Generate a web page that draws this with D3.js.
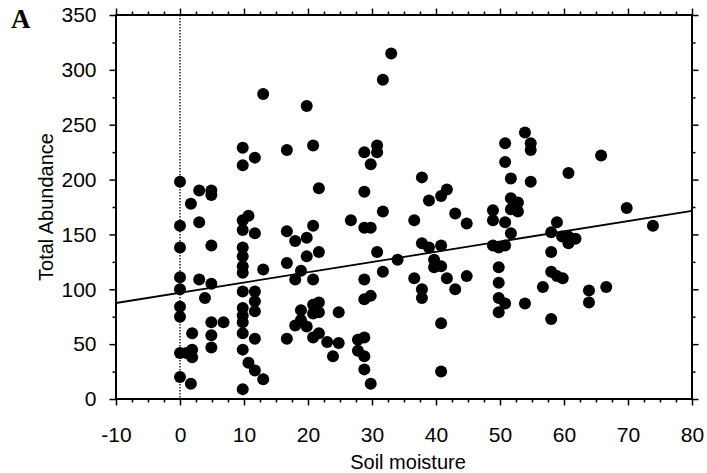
<!DOCTYPE html>
<html>
<head>
<meta charset="utf-8">
<script src="https://cdn.jsdelivr.net/npm/d3@7.9.0/dist/d3.min.js"></script>
<style>
  body { margin: 0; background: #fff; }
  svg { display: block; }
  text { fill: #000; }
</style>
</head>
<body>
<svg id="chart" width="707" height="473"></svg>
<script>
// soil moisture (x) and total abundance (y)
const moisture = [
  0, 0, 0, 0, 0, 0, 0, 0, 0,
  1, 1.7, 1.9, 1.9, 1.9, 1.7,
  3, 3, 3, 3.9,
  4.9, 4.9, 4.9, 4.9, 4.9, 4.9, 4.9, 6.8,
  9.8, 9.8, 9.8, 9.8, 9.8, 9.8, 9.8, 9.8, 9.8, 9.8, 9.8, 9.8, 9.8, 9.8, 9.8,
  10.7, 10.7,
  11.7, 11.7, 11.7, 11.7, 11.7, 11.7, 11.7,
  13, 13, 13,
  16.7, 16.7, 16.7, 16.7,
  18, 18, 18,
  18.9, 18.9, 18.9,
  19.8, 19.8, 19.8, 19.8,
  20.8, 20.8, 20.8, 20.8, 20.8, 20.8,
  21.7, 21.7, 21.7, 21.7, 21.7,
  23, 23.9, 24.8, 24.8,
  26.7, 27.8, 27.8,
  28.8, 28.8, 28.8, 28.8, 28.8, 28.8, 28.8, 28.8,
  29.8, 29.8, 29.8, 29.8,
  30.8, 30.8, 30.8,
  31.7, 31.7, 31.7, 33, 34,
  36.6, 36.6,
  37.8, 37.8, 37.8, 37.8,
  38.9, 38.9, 39.7, 39.7,
  40.8, 40.8, 40.8, 40.8, 40.8,
  41.7, 41.7, 43, 43, 44.8, 44.8,
  48.9, 48.9, 48.9,
  49.8, 49.8, 49.8, 49.8, 49.8,
  50.8, 50.8, 50.8, 50.8, 50.8,
  51.7, 51.7, 51.7, 51.7,
  52.8, 52.8, 53.9, 53.9,
  54.8, 54.8, 54.8,
  56.7,
  58, 58, 58, 58,
  58.9, 58.9, 59.8, 59.7,
  60.7, 60.7, 60.7, 61.8,
  63.9, 63.9, 65.8, 66.6, 69.8, 73.9
];
const abundance = [
  198, 158, 138, 111, 100, 84, 75, 42, 20,
  42, 178, 60, 45, 38, 14,
  190, 161, 109, 92,
  190, 186, 140, 105, 70, 58, 47, 70,
  229, 213, 163, 154, 138, 130, 121, 115, 98, 83, 76, 70, 60, 45, 9,
  167, 33,
  220, 151, 98, 89, 80, 55, 26,
  278, 118, 18,
  227, 153, 124, 55,
  144, 109, 67,
  117, 81, 72,
  267, 147, 130, 66,
  231, 158, 109, 86, 78, 56,
  192, 134, 88, 79, 60,
  52, 39, 79, 51,
  163, 54, 44,
  225, 189, 156, 109, 91, 56, 39, 27,
  214, 156, 94, 14,
  231, 225, 134,
  291, 171, 116, 315, 127,
  163, 110,
  202, 142, 100, 92,
  181, 138, 127, 120,
  185, 140, 121, 69, 25,
  191, 110, 169, 100, 160, 112,
  172, 163, 140,
  138, 120, 106, 92, 79,
  233, 216, 161, 140, 87,
  201, 183, 173, 151,
  179, 171, 243, 87,
  233, 227, 198,
  102,
  152, 134, 116, 73,
  161, 112, 110, 148,
  148, 142, 206, 146,
  99, 88, 222, 102, 174, 158
];

// fitted regression line, end points
const fitX = [-10, 80];
const fitY = [87.5, 171.5];

const xTicks = [-10, 0, 10, 20, 30, 40, 50, 60, 70, 80];
const yTicks = [0, 50, 100, 150, 200, 250, 300, 350];

const sans = "'Liberation Sans', Arial, Helvetica, sans-serif";
const svg = d3.select('#chart');
const W = 707, H = 473;
const margin = { top: 15, right: 15, bottom: 74, left: 116 };

const x = d3.scaleLinear().domain([-10, 80]).range([margin.left, W - margin.right]);
const y = d3.scaleLinear().domain([0, 350]).range([H - margin.bottom, margin.top]);

const xMinor = d3.range(-10, 80.01, 2.5).filter((v) => v % 10 !== 0);
const yMinor = d3.range(25, 350, 50);

function drawAxis(axisFn, scale, ticks, minor, transform, labels, pad) {
  const g = svg.append('g').attr('transform', transform);
  g.call(axisFn(scale).tickValues(minor).tickSize(3.5).tickFormat(''));
  g.selectAll('.tick line').attr('stroke-width', 1.5);
  const gm = svg.append('g').attr('transform', transform);
  gm.call(axisFn(scale).tickValues(ticks).tickSize(6.5).tickPadding(pad)
    .tickFormat(labels ? (d) => String(d) : ''));
  gm.selectAll('.tick line').attr('stroke-width', 1.5);
  gm.selectAll('.tick text').attr('font-size', 21).style('font-family', sans);
  g.select('.domain').remove();
  gm.select('.domain').remove();
  return gm;
}

drawAxis(d3.axisBottom, x, xTicks, xMinor, `translate(0,${y(0)})`, true, 22);
drawAxis(d3.axisTop, x, xTicks, xMinor, `translate(0,${y(350)})`, false, 3);
drawAxis(d3.axisLeft, y, yTicks, yMinor, `translate(${x(-10)},0)`, true, 13);
drawAxis(d3.axisRight, y, yTicks, yMinor, `translate(${x(80)},0)`, false, 3);

// frame
svg.append('rect')
  .attr('x', x(-10)).attr('y', y(350))
  .attr('width', x(80) - x(-10)).attr('height', y(0) - y(350))
  .attr('fill', 'none').attr('stroke', '#000').attr('stroke-width', 2);

// zero reference
svg.append('line')
  .attr('x1', x(0)).attr('x2', x(0))
  .attr('y1', y(350)).attr('y2', y(0))
  .attr('stroke', '#000').attr('stroke-width', 1.3)
  .attr('stroke-dasharray', '1.5,1.5');

svg.append('g')
  .selectAll('circle')
  .data(d3.zip(moisture, abundance))
  .join('circle')
  .attr('cx', (d) => x(d[0]))
  .attr('cy', (d) => y(d[1]))
  .attr('r', 6)
  .attr('fill', '#000');

svg.append('line')
  .attr('x1', x(fitX[0])).attr('y1', y(fitY[0]))
  .attr('x2', x(fitX[1])).attr('y2', y(fitY[1]))
  .attr('stroke', '#000').attr('stroke-width', 1.8);

// titles
svg.append('text')
  .attr('x', (x(-10) + x(80)) / 2 + 4).attr('y', 469)
  .attr('text-anchor', 'middle').attr('font-size', 20)
  .style('font-family', sans)
  .text('Soil moisture');

svg.append('text')
  .attr('transform', `translate(53,${(y(0) + y(350)) / 2}) rotate(-90)`)
  .attr('text-anchor', 'middle').attr('font-size', 20)
  .style('font-family', sans)
  .text('Total Abundance');

svg.append('text')
  .attr('x', 11).attr('y', 28)
  .style('font-family', "'Liberation Serif', 'Times New Roman', serif")
  .attr('font-weight', 'bold').attr('font-size', 27)
  .text('A');
</script>
</body>
</html>
